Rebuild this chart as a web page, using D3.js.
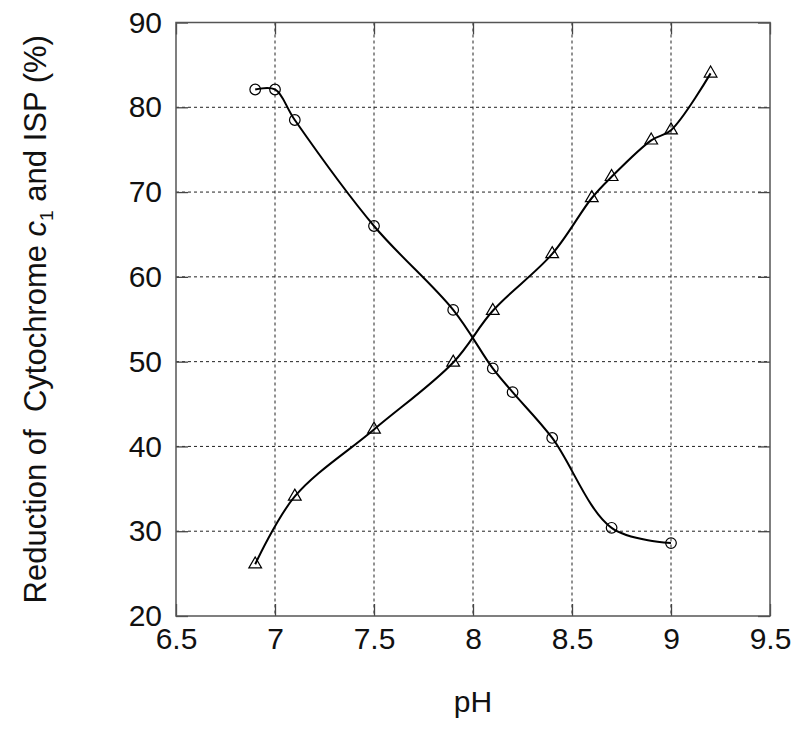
<!DOCTYPE html>
<html>
<head>
<meta charset="utf-8">
<script src="https://cdn.jsdelivr.net/npm/d3@7"></script>
<style>
  body { margin: 0; background: #fff; }
  svg text { font-family: "Liberation Sans", Arial, sans-serif; fill: #111; }
</style>
</head>
<body>
<div id="chart"></div>
<script>
// cytochrome c1 (circles)
const cytPH  = [6.9, 7.0, 7.1, 7.5, 7.9, 8.1, 8.2, 8.4, 8.7, 9.0];
const cytVal = [82.1, 82.1, 78.5, 66.0, 56.1, 49.2, 46.4, 41.0, 30.4, 28.6];

// ISP (triangles)
const ispPH  = [6.9, 7.1, 7.5, 7.9, 8.1, 8.4, 8.6, 8.7, 8.9, 9.0, 9.2];
const ispVal = [26.1, 34.1, 42.0, 49.9, 56.0, 62.7, 69.3, 71.8, 76.1, 77.3, 84.0];

const xTicks = [6.5, 7, 7.5, 8, 8.5, 9, 9.5];
const yTicks = [20, 30, 40, 50, 60, 70, 80, 90];

const width = 800, height = 733;
const plotL = 176, plotR = 770, plotT = 22.5, plotB = 616;

const svg = d3.select("#chart").append("svg")
    .attr("width", width)
    .attr("height", height);

const x = d3.scaleLinear().domain([6.5, 9.5]).range([plotL, plotR]);
const y = d3.scaleLinear().domain([20, 90]).range([plotB, plotT]);

// dotted grid
const grid = svg.append("g")
    .attr("stroke", "#222")
    .attr("stroke-width", 1)
    .attr("stroke-dasharray", "3,3");

grid.selectAll("line.v")
    .data(xTicks.slice(1, -1))
    .enter().append("line")
    .attr("class", "v")
    .attr("x1", d => x(d)).attr("x2", d => x(d))
    .attr("y1", plotT).attr("y2", plotB);

grid.selectAll("line.h")
    .data(yTicks.slice(1, -1))
    .enter().append("line")
    .attr("class", "h")
    .attr("y1", d => y(d)).attr("y2", d => y(d))
    .attr("x1", plotL).attr("x2", plotR);

// axes with inward ticks on all sides
const tickLen = 12;
const fmt = d => String(d);

svg.append("g")
    .attr("transform", `translate(0,${plotB})`)
    .call(d3.axisBottom(x).tickValues(xTicks).tickFormat(fmt).tickSizeInner(-tickLen).tickSizeOuter(0).tickPadding(12))
    .call(g => g.select(".domain").remove());

svg.append("g")
    .attr("transform", `translate(0,${plotT})`)
    .call(d3.axisTop(x).tickValues(xTicks).tickFormat("").tickSizeInner(-tickLen).tickSizeOuter(0))
    .call(g => g.select(".domain").remove());

svg.append("g")
    .attr("transform", `translate(${plotL},0)`)
    .call(d3.axisLeft(y).tickValues(yTicks).tickFormat(fmt).tickSizeInner(-tickLen).tickSizeOuter(0).tickPadding(14))
    .call(g => g.select(".domain").remove());

svg.append("g")
    .attr("transform", `translate(${plotR},0)`)
    .call(d3.axisRight(y).tickValues(yTicks).tickFormat("").tickSizeInner(-tickLen).tickSizeOuter(0))
    .call(g => g.select(".domain").remove());

svg.selectAll(".tick line").attr("stroke", "#444").attr("stroke-width", 1.3);
svg.selectAll(".tick text")
    .attr("font-size", 30)
    .attr("fill", "#111")
    .style("font-family", '"Liberation Sans", Arial, sans-serif');

// frame
svg.append("rect")
    .attr("x", plotL).attr("y", plotT)
    .attr("width", plotR - plotL).attr("height", plotB - plotT)
    .attr("fill", "none")
    .attr("stroke", "#555")
    .attr("stroke-width", 1.5);

// curves
const line = d3.line()
    .x(d => x(d[0]))
    .y(d => y(d[1]))
    .curve(d3.curveCatmullRom.alpha(0.5));

const cytData = cytPH.map((p, i) => [p, cytVal[i]]);
const ispData = ispPH.map((p, i) => [p, ispVal[i]]);

svg.append("path")
    .datum(cytData)
    .attr("d", line)
    .attr("fill", "none")
    .attr("stroke", "#000")
    .attr("stroke-width", 2);

svg.append("path")
    .datum(ispData)
    .attr("d", line)
    .attr("fill", "none")
    .attr("stroke", "#000")
    .attr("stroke-width", 2);

// markers
svg.append("g").selectAll("circle")
    .data(cytData)
    .enter().append("circle")
    .attr("cx", d => x(d[0]))
    .attr("cy", d => y(d[1]))
    .attr("r", 5.3)
    .attr("fill", "none")
    .attr("stroke", "#000")
    .attr("stroke-width", 1.2);

const tri = d3.symbol().type(d3.symbolTriangle).size(70);
svg.append("g").selectAll("path")
    .data(ispData)
    .enter().append("path")
    .attr("d", tri)
    .attr("transform", d => `translate(${x(d[0])},${y(d[1])})`)
    .attr("fill", "none")
    .attr("stroke", "#000")
    .attr("stroke-width", 1.2);

// axis titles
svg.append("text")
    .attr("x", (plotL + plotR) / 2)
    .attr("y", 712)
    .attr("text-anchor", "middle")
    .attr("font-size", 30)
    .text("pH");

const yt = svg.append("text")
    .attr("transform", `translate(46,${(plotT + plotB) / 2}) rotate(-90)`)
    .attr("text-anchor", "middle")
    .attr("font-size", 31)
    .style("white-space", "pre");
yt.append("tspan").text("Reduction of  Cytochrome ");
yt.append("tspan").attr("font-style", "italic").text("c");
yt.append("tspan").attr("font-size", 19).attr("dy", 7).text("1");
yt.append("tspan").attr("dy", -7).text(" and ISP (%)");
</script>
</body>
</html>
